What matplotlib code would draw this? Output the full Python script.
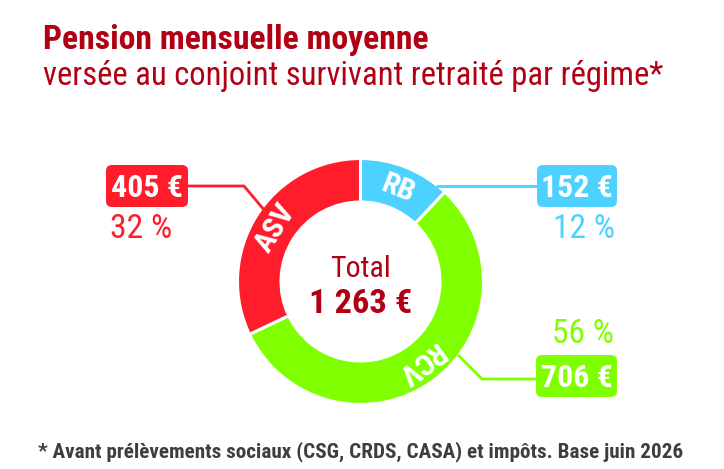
import math
import matplotlib
matplotlib.use('Agg')
import matplotlib.pyplot as plt
import matplotlib.font_manager as fm
from matplotlib.patches import FancyBboxPatch

# ---------------- data ----------------
regimes = ['RB', 'RCV', 'ASV']
montants = [152, 706, 405]
couleurs = ['#4DD2FF', '#80FF00', '#FF1C2B']
title1 = 'Pension mensuelle moyenne'
title2 = 'versée au conjoint survivant retraité par régime*'
total_label = 'Total'
footnote = '* Avant prélèvements sociaux (CSG, CRDS, CASA) et impôts. Base juin 2026'

W, H = 724, 469
DARK_RED = '#B10014'
GREY = '#3E3E3E'


def eur(v):
    return f'{v:,}'.replace(',', ' ') + ' €'


# ---------------- font selection (prefer condensed faces) ----------------
def _w(f):
    w = f.weight
    if isinstance(w, str):
        w = fm.weight_dict.get(w, 400)
    return w


def pick_font(target_weight):
    pref = ['Liberation Sans Narrow', 'Roboto Condensed', 'Open Sans Condensed',
            'Noto Sans', 'Open Sans', 'Roboto', 'DejaVu Sans', 'Liberation Sans']
    cands = []
    for f in fm.fontManager.ttflist:
        st = str(f.stretch).lower()
        nm = f.name.lower()
        if f.style != 'normal':
            continue
        cond = ('condensed' in st and 'extra' not in st and 'ultra' not in st) or \
               'narrow' in nm or ('condensed' in nm and 'extra' not in nm)
        if not cond:
            continue
        try:
            rank = pref.index(f.name)
        except ValueError:
            rank = len(pref)
            for i, p in enumerate(pref):
                if f.name.startswith(p):
                    rank = i
                    break
        cands.append((rank, abs(_w(f) - target_weight), f.fname))
    if cands:
        cands.sort()
        return fm.FontProperties(fname=cands[0][2])
    return fm.FontProperties(family=['Liberation Sans', 'DejaVu Sans'],
                             weight='bold' if target_weight >= 600 else 'normal')


FP_REG = pick_font(400)
FP_BOLD = pick_font(700)
FP_SEMI = pick_font(600)

# ---------------- figure ----------------
fig = plt.figure(figsize=(W / 100, H / 100), dpi=100)
ax = fig.add_axes([0, 0, 1, 1])
renderer = fig.canvas.get_renderer()


def Y(y):
    return H - y


def put(x, y, s, fp, color, cap_px, target_w=None, ha='left', va='baseline',
        k=0.8, cap=1.3):
    t = ax.text(x, Y(y), s, fontproperties=fp, color=color, fontsize=cap_px,
                ha=ha, va=va, zorder=5)
    if target_w:
        bb = t.get_window_extent(renderer)
        r = target_w / bb.width
        if r < 1:
            t.set_fontsize(cap_px * r)
        else:
            t.set_fontsize(cap_px * min(r ** k, cap))
    return t


# donut
cx, cy = 360.5, 281.5
wedges, _ = ax.pie(montants, colors=couleurs, startangle=90, counterclock=False,
                   radius=123, center=(cx, Y(cy)),
                   wedgeprops=dict(width=43.5, edgecolor='white', linewidth=2.2))
ax.set_aspect('auto')
ax.set_xlim(0, W)
ax.set_ylim(0, H)
ax.axis('off')

r_lab = 100
for w, name in zip(wedges, regimes):
    mid = (w.theta1 + w.theta2) / 2.0
    a = math.radians(mid)
    x = cx + r_lab * math.cos(a)
    y = Y(cy) + r_lab * math.sin(a)
    rot = ((mid - 90) + 180) % 360 - 180
    ax.text(x, y, name, fontproperties=FP_BOLD, color='white', fontsize=21.5,
            ha='center', va='center', rotation=rot, rotation_mode='anchor', zorder=6)

# centre text
total = sum(montants)
put(cx, 277, total_label, FP_REG, DARK_RED, 27, target_w=61, ha='center')
put(cx, 313, eur(total), FP_BOLD, DARK_RED, 27, target_w=103, ha='center')

# boxes, leaders and percentages (layout positions in px from top)
box_pos = {
    'RB': dict(box=(537, 165, 80, 42), pct=(584, 227), leader=[(436, 186), (537, 186)]),
    'RCV': dict(box=(536, 355, 81, 42), pct=(583, 332), leader=[(458, 355), (482, 379), (536, 379)]),
    'ASV': dict(box=(106, 165, 82, 42), pct=(141, 227), leader=[(188, 186), (244, 186), (265, 211)]),
}
for name, val, col in zip(regimes, montants, couleurs):
    p = box_pos[name]
    bx, by, bw, bh = p['box']
    ax.add_patch(FancyBboxPatch((bx, Y(by + bh)), bw, bh,
                                boxstyle='round,pad=0,rounding_size=6',
                                facecolor=col, edgecolor='none', zorder=4))
    xs = [q[0] for q in p['leader']]
    ys = [Y(q[1]) for q in p['leader']]
    ax.plot(xs, ys, color=col, lw=2.0, solid_capstyle='butt', zorder=3)
    put(bx + bw / 2, by + bh / 2 + 10.5, eur(val), FP_BOLD, 'white', 21, target_w=72, ha='center', k=1.0)
    pct = round(100 * val / total)
    px, py = p['pct']
    put(px, py + 10.5, f'{pct} %', FP_REG, col, 21, target_w=62, ha='center', k=1.0)

# titles and footnote
put(43, 49, title1, FP_BOLD, DARK_RED, 20.5, target_w=412, k=1.0, cap=1.18)
put(43, 85, title2, FP_REG, DARK_RED, 20.5, target_w=620, k=1.0, cap=1.18)
put(38, 457, footnote, FP_SEMI, GREY, 15, target_w=649)

fig.savefig('out.png', dpi=100)
